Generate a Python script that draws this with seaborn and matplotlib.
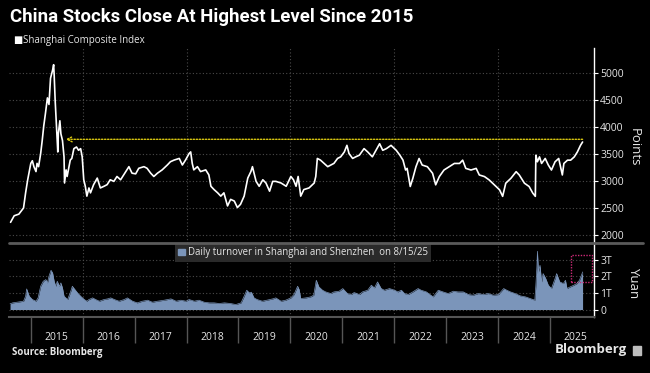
import matplotlib
matplotlib.use("Agg")
import matplotlib.pyplot as plt
import seaborn as sns
from matplotlib.patches import Patch, Rectangle
from matplotlib.lines import Line2D

# ──────────────────────────────────────────────────────────────────────────────
# Data (decimal years)
# ──────────────────────────────────────────────────────────────────────────────
idx_dates = [
    2014.61, 2014.68, 2014.77, 2014.84, 2014.86, 2014.90, 2014.94, 2015.00, 2015.03, 2015.06,
    2015.10, 2015.12, 2015.15, 2015.19, 2015.22, 2015.25, 2015.28, 2015.32, 2015.35, 2015.38,
    2015.42, 2015.44, 2015.45, 2015.47, 2015.50, 2015.52, 2015.53, 2015.56, 2015.58, 2015.61,
    2015.64, 2015.65, 2015.68, 2015.70, 2015.73, 2015.76, 2015.79, 2015.83, 2015.88, 2015.92,
    2015.96, 2015.99, 2016.02, 2016.05, 2016.08, 2016.12, 2016.15, 2016.21, 2016.28, 2016.34,
    2016.41, 2016.47, 2016.53, 2016.60, 2016.66, 2016.73, 2016.79, 2016.89, 2016.95, 2017.02,
    2017.08, 2017.18, 2017.24, 2017.31, 2017.37, 2017.44, 2017.53, 2017.63, 2017.69, 2017.76,
    2017.86, 2017.92, 2017.98, 2018.05, 2018.08, 2018.11, 2018.14, 2018.21, 2018.27, 2018.37,
    2018.43, 2018.47, 2018.53, 2018.60, 2018.66, 2018.72, 2018.79, 2018.85, 2018.92, 2018.98,
    2019.04, 2019.11, 2019.18, 2019.24, 2019.27, 2019.34, 2019.40, 2019.47, 2019.53, 2019.60,
    2019.66, 2019.72, 2019.82, 2019.92, 2020.01, 2020.06, 2020.11, 2020.15, 2020.20, 2020.26,
    2020.36, 2020.46, 2020.49, 2020.52, 2020.58, 2020.65, 2020.72, 2020.78, 2020.84, 2020.91,
    2020.97, 2021.04, 2021.09, 2021.13, 2021.20, 2021.26, 2021.33, 2021.42, 2021.49, 2021.58,
    2021.65, 2021.72, 2021.78, 2021.85, 2021.94, 2022.04, 2022.11, 2022.17, 2022.22, 2022.25,
    2022.31, 2022.36, 2022.42, 2022.48, 2022.54, 2022.64, 2022.74, 2022.80, 2022.87, 2022.96,
    2023.06, 2023.16, 2023.26, 2023.32, 2023.38, 2023.48, 2023.58, 2023.64, 2023.74, 2023.83,
    2023.93, 2024.03, 2024.09, 2024.15, 2024.25, 2024.35, 2024.41, 2024.51, 2024.60, 2024.67,
    2024.72, 2024.73, 2024.76, 2024.80, 2024.84, 2024.91, 2024.97, 2025.03, 2025.10, 2025.17,
    2025.24, 2025.27, 2025.34, 2025.40, 2025.47, 2025.53, 2025.59, 2025.63,
]
idx_values = [
    2234, 2356, 2386, 2477, 2500, 2781, 3024, 3328, 3377, 3267,
    3176, 3328, 3267, 3511, 3754, 4027, 4240, 4544, 4422, 4909,
    5060, 5160, 4970, 4483, 3936, 3540, 3875, 4119, 3875, 3754,
    3450, 2964, 3207, 3085, 3237, 3389, 3420, 3602, 3632, 3571,
    3602, 3450, 3024, 2903, 2720, 2872, 2781, 2933, 3055, 2872,
    2903, 2933, 3024, 2994, 3085, 3024, 3116, 3267, 3146, 3134,
    3237, 3267, 3237, 3146, 3085, 3146, 3207, 3298, 3359, 3389,
    3420, 3298, 3389, 3511, 3541, 3328, 3207, 3267, 3176, 3207,
    3115, 2903, 2842, 2781, 2720, 2781, 2538, 2660, 2629, 2508,
    2568, 2720, 3055, 3176, 3267, 2994, 2903, 3024, 2964, 2812,
    2994, 2994, 2964, 2903, 3085, 3024, 2903, 3085, 2720, 2842,
    2872, 2964, 3085, 3420, 3389, 3328, 3267, 3298, 3328, 3420,
    3450, 3541, 3663, 3511, 3420, 3450, 3480, 3602, 3541, 3450,
    3571, 3693, 3571, 3602, 3663, 3571, 3480, 3389, 3205, 3235,
    2899, 3052, 3266, 3419, 3297, 3266, 3144, 2930, 3083, 3205,
    3266, 3327, 3327, 3388, 3235, 3205, 3235, 3113, 3083, 3021,
    2930, 2838, 2716, 2960, 3052, 3174, 3113, 2960, 2899, 2777,
    2716, 3480, 3358, 3449, 3327, 3419, 3297, 3205, 3358, 3419,
    3113, 3327, 3388, 3388, 3449, 3541, 3663, 3725,
]

turn_dates = [
    2014.60, 2014.65, 2014.74, 2014.86, 2014.90, 2014.92, 2014.97, 2015.03, 2015.10, 2015.14,
    2015.19, 2015.24, 2015.29, 2015.32, 2015.35, 2015.39, 2015.42, 2015.45, 2015.48, 2015.51,
    2015.55, 2015.58, 2015.61, 2015.64, 2015.71, 2015.77, 2015.80, 2015.85, 2015.90, 2015.96,
    2016.03, 2016.08, 2016.12, 2016.19, 2016.25, 2016.32, 2016.41, 2016.48, 2016.54, 2016.61,
    2016.70, 2016.80, 2016.86, 2016.96, 2017.05, 2017.15, 2017.25, 2017.34, 2017.44, 2017.57,
    2017.70, 2017.80, 2017.89, 2017.99, 2018.05, 2018.15, 2018.24, 2018.34, 2018.44, 2018.53,
    2018.63, 2018.73, 2018.85, 2018.95, 2019.05, 2019.11, 2019.16, 2019.21, 2019.25, 2019.30,
    2019.36, 2019.46, 2019.55, 2019.66, 2019.72, 2019.82, 2019.91, 2020.01, 2020.07, 2020.14,
    2020.17, 2020.20, 2020.30, 2020.39, 2020.45, 2020.50, 2020.55, 2020.62, 2020.68, 2020.78,
    2020.84, 2020.94, 2021.01, 2021.04, 2021.10, 2021.17, 2021.23, 2021.33, 2021.39, 2021.49,
    2021.56, 2021.62, 2021.68, 2021.75, 2021.81, 2021.91, 2022.01, 2022.07, 2022.14, 2022.20,
    2022.27, 2022.36, 2022.46, 2022.52, 2022.62, 2022.75, 2022.85, 2022.94, 2023.04, 2023.14,
    2023.23, 2023.33, 2023.43, 2023.52, 2023.62, 2023.72, 2023.81, 2023.91, 2024.01, 2024.11,
    2024.17, 2024.24, 2024.33, 2024.43, 2024.53, 2024.62, 2024.71, 2024.73, 2024.75, 2024.76,
    2024.78, 2024.81, 2024.84, 2024.87, 2024.92, 2024.97, 2025.03, 2025.10, 2025.13, 2025.19,
    2025.26, 2025.30, 2025.33, 2025.39, 2025.46, 2025.52, 2025.57, 2025.62, 2025.63,
]
turn_values = [  # trillion yuan
    0.34, 0.40, 0.44, 0.50, 0.80, 1.24, 0.80, 0.60, 0.50, 0.70,
    1.40, 1.70, 1.80, 1.60, 2.00, 2.36, 2.20, 1.70, 1.40, 1.70,
    1.40, 1.60, 1.30, 0.80, 0.60, 1.10, 1.40, 1.20, 1.00, 0.80,
    0.60, 0.50, 0.60, 0.70, 0.60, 0.50, 0.60, 0.64, 0.70, 0.60,
    0.50, 0.60, 0.70, 0.50, 0.40, 0.50, 0.56, 0.44, 0.50, 0.56,
    0.64, 0.50, 0.56, 0.50, 0.60, 0.50, 0.56, 0.44, 0.40, 0.40,
    0.36, 0.40, 0.36, 0.30, 0.40, 0.80, 1.16, 1.00, 1.04, 0.70,
    0.60, 0.50, 0.56, 0.64, 0.70, 0.50, 0.56, 0.70, 0.90, 1.40,
    1.20, 0.66, 0.70, 0.76, 0.86, 1.76, 1.36, 1.16, 1.06, 0.96,
    1.06, 1.10, 1.26, 1.16, 0.96, 0.90, 1.02, 0.90, 1.06, 1.16,
    1.46, 1.30, 1.66, 1.26, 1.16, 1.26, 1.16, 1.06, 1.16, 0.96,
    0.90, 1.06, 1.26, 1.16, 1.06, 0.76, 1.16, 1.06, 0.96, 1.10,
    1.06, 1.06, 0.90, 0.86, 0.96, 0.90, 0.96, 0.86, 0.90, 1.26,
    1.16, 1.06, 0.96, 0.82, 0.76, 0.66, 0.56, 1.46, 2.56, 3.50,
    2.26, 2.66, 1.66, 2.16, 1.86, 1.46, 1.26, 1.86, 2.16, 1.66,
    1.56, 1.76, 1.26, 1.36, 1.46, 1.56, 1.76, 2.16, 2.26,
]

year_ticks = list(range(2015, 2026))
year_labels = [str(y) for y in year_ticks]
grid_years = [2016, 2018, 2020, 2022, 2024]
points_ticks = [2000, 2500, 3000, 3500, 4000, 4500, 5000]
yuan_ticks = [0, 1, 2, 3]
yuan_labels = ["0", "1T", "2T", "3T"]

prev_high = 3775          # Aug 2015 level the yellow line points back to
prev_high_date = 2015.67
last_date = 2025.63
box_x = (2025.40, 2025.82)  # recent turnover highlight
box_y = (1.65, 3.25)

# ──────────────────────────────────────────────────────────────────────────────
# Style
# ──────────────────────────────────────────────────────────────────────────────
sns.set_theme(style="dark", rc={
    "figure.facecolor": "black",
    "axes.facecolor": "black",
    "savefig.facecolor": "black",
    "text.color": "white",
})
plt.rcParams["font.family"] = ["Open Sans", "DejaVu Sans"]

W, H = 650, 373
LINE_C = "white"
FILL_C = "#7b95ba"
GRID_C = "#4a4a4a"
TXT_C = "#e6e6e6"

fig = plt.figure(figsize=(W / 100, H / 100), dpi=100)
ax1 = fig.add_axes([9 / W, 1 - 243 / H, 585 / W, 195 / H])
ax2 = fig.add_axes([9 / W, 1 - 317 / H, 585 / W, 74 / H], sharex=ax1)

# ──────────────────────────────────────────────────────────────────────────────
# Top panel: Shanghai Composite
# ──────────────────────────────────────────────────────────────────────────────
sns.lineplot(x=idx_dates, y=idx_values, ax=ax1, color=LINE_C, linewidth=1.2)
ax1.annotate("", xy=(prev_high_date, prev_high), xytext=(last_date, prev_high),
             arrowprops=dict(arrowstyle="->", color="#d8c610", lw=1.0,
                             linestyle=(0, (1, 1.2)), shrinkA=0, shrinkB=0,
                             mutation_scale=9))
ax1.set_xlim(2014.58, 2025.85)
ax1.set_ylim(1850, 5470)
ax1.set_yticks(points_ticks)
ax1.grid(axis="y", color=GRID_C, linestyle=(0, (1, 2)), linewidth=0.8)
for gx in grid_years:
    ax1.axvline(gx, color=GRID_C, linestyle=(0, (1, 2)), linewidth=0.8, zorder=0)
ax1.yaxis.tick_right()
ax1.tick_params(axis="y", right=True, left=False, length=3, width=0.8, color="white",
                labelsize=7.5, labelcolor=TXT_C, pad=1.5)
ax1.tick_params(axis="x", which="both", bottom=False, labelbottom=False)
for s in ["top", "left", "bottom"]:
    ax1.spines[s].set_visible(False)
ax1.spines["right"].set_color("white")
ax1.spines["right"].set_linewidth(1)
ax1.set_xlabel("")
ax1.set_ylabel("")

# ──────────────────────────────────────────────────────────────────────────────
# Bottom panel: turnover
# ──────────────────────────────────────────────────────────────────────────────
sns.lineplot(x=turn_dates, y=turn_values, ax=ax2, color=FILL_C, linewidth=0.5)
ax2.fill_between(turn_dates, turn_values, color=FILL_C, linewidth=0)
ax2.add_patch(Rectangle((box_x[0], box_y[0]), box_x[1] - box_x[0], box_y[1] - box_y[0],
                        fill=False, edgecolor="#cc2a77", linestyle=(0, (1, 1)), linewidth=1))
ax2.set_ylim(-0.45, 4.0)
ax2.set_yticks(yuan_ticks, yuan_labels)
ax2.grid(axis="y", color=GRID_C, linestyle=(0, (1, 2)), linewidth=0.8)
for gx in grid_years:
    ax2.axvline(gx, color=GRID_C, linestyle=(0, (1, 2)), linewidth=0.8, zorder=0)
ax2.yaxis.tick_right()
ax2.tick_params(axis="y", right=True, left=False, length=3, width=0.8, color="white",
                labelsize=7.5, labelcolor=TXT_C, pad=1.5)

ax2.set_xticks(year_ticks, [""] * len(year_ticks))
ax2.set_xticks([y + 0.5 for y in year_ticks], year_labels, minor=True)
ax2.tick_params(axis="x", which="major", bottom=True, direction="out", length=18.7,
                width=1, color="#555555")
ax2.tick_params(axis="x", which="minor", bottom=True, length=0, pad=11,
                labelsize=7.5, labelcolor=TXT_C)
for s in ["top", "left"]:
    ax2.spines[s].set_visible(False)
ax2.spines["right"].set_color("white")
ax2.spines["right"].set_linewidth(1)
ax2.spines["bottom"].set_color("#555555")
ax2.spines["bottom"].set_linewidth(1.5)
ax2.set_xlabel("")
ax2.set_ylabel("")

ax2.legend(handles=[Patch(color=FILL_C, label="Daily turnover in Shanghai and Shenzhen  on 8/15/25")],
           loc="upper left", bbox_to_anchor=((175 - 9) / 585, 0.985), frameon=True,
           facecolor="#2a2a2a", edgecolor="none", fancybox=False, framealpha=1,
           handlelength=0.7, handleheight=0.7, handletextpad=0.3, borderpad=0.35,
           borderaxespad=0, fontsize=6.9, labelcolor=TXT_C)

# separator between the panels
fig.add_artist(Line2D([9 / W, 643 / W], [1 - 243 / H] * 2, color="#5a5a5a", linewidth=2))

# ──────────────────────────────────────────────────────────────────────────────
# Text
# ──────────────────────────────────────────────────────────────────────────────
fig.text(10 / W, 1 - 17 / H, "China Stocks Close At Highest Level Since 2015",
         fontsize=13.4, fontweight="bold", color="white", va="center",
         family=["Roboto", "DejaVu Sans"])
fig.text(13 / W, 1 - 40 / H, "\u25A0", fontsize=7, color="white", va="center",
         family="DejaVu Sans")
fig.text(23 / W, 1 - 40 / H, "Shanghai Composite Index", fontsize=7, color=TXT_C, va="center")
fig.text(634 / W, 1 - 147 / H, "Points", fontsize=9.5, color=TXT_C, rotation=-90,
         ha="center", va="center")
fig.text(634 / W, 1 - 283 / H, "Yuan", fontsize=9.5, color=TXT_C, rotation=-90,
         ha="center", va="center")
fig.text(12 / W, 1 - 352 / H, "Source: Bloomberg", fontsize=7, fontweight="bold",
         color=TXT_C, va="center")
fig.text(627 / W, 1 - 350 / H, "Bloomberg", fontsize=9.5, fontweight="bold",
         color=TXT_C, va="center", ha="right")
fig.add_artist(Rectangle((633 / W, 1 - 355 / H), 8 / W, 9 / H, color="#bdbdbd",
                         transform=fig.transFigure))

fig.savefig("out.png", dpi=100, facecolor="black")
